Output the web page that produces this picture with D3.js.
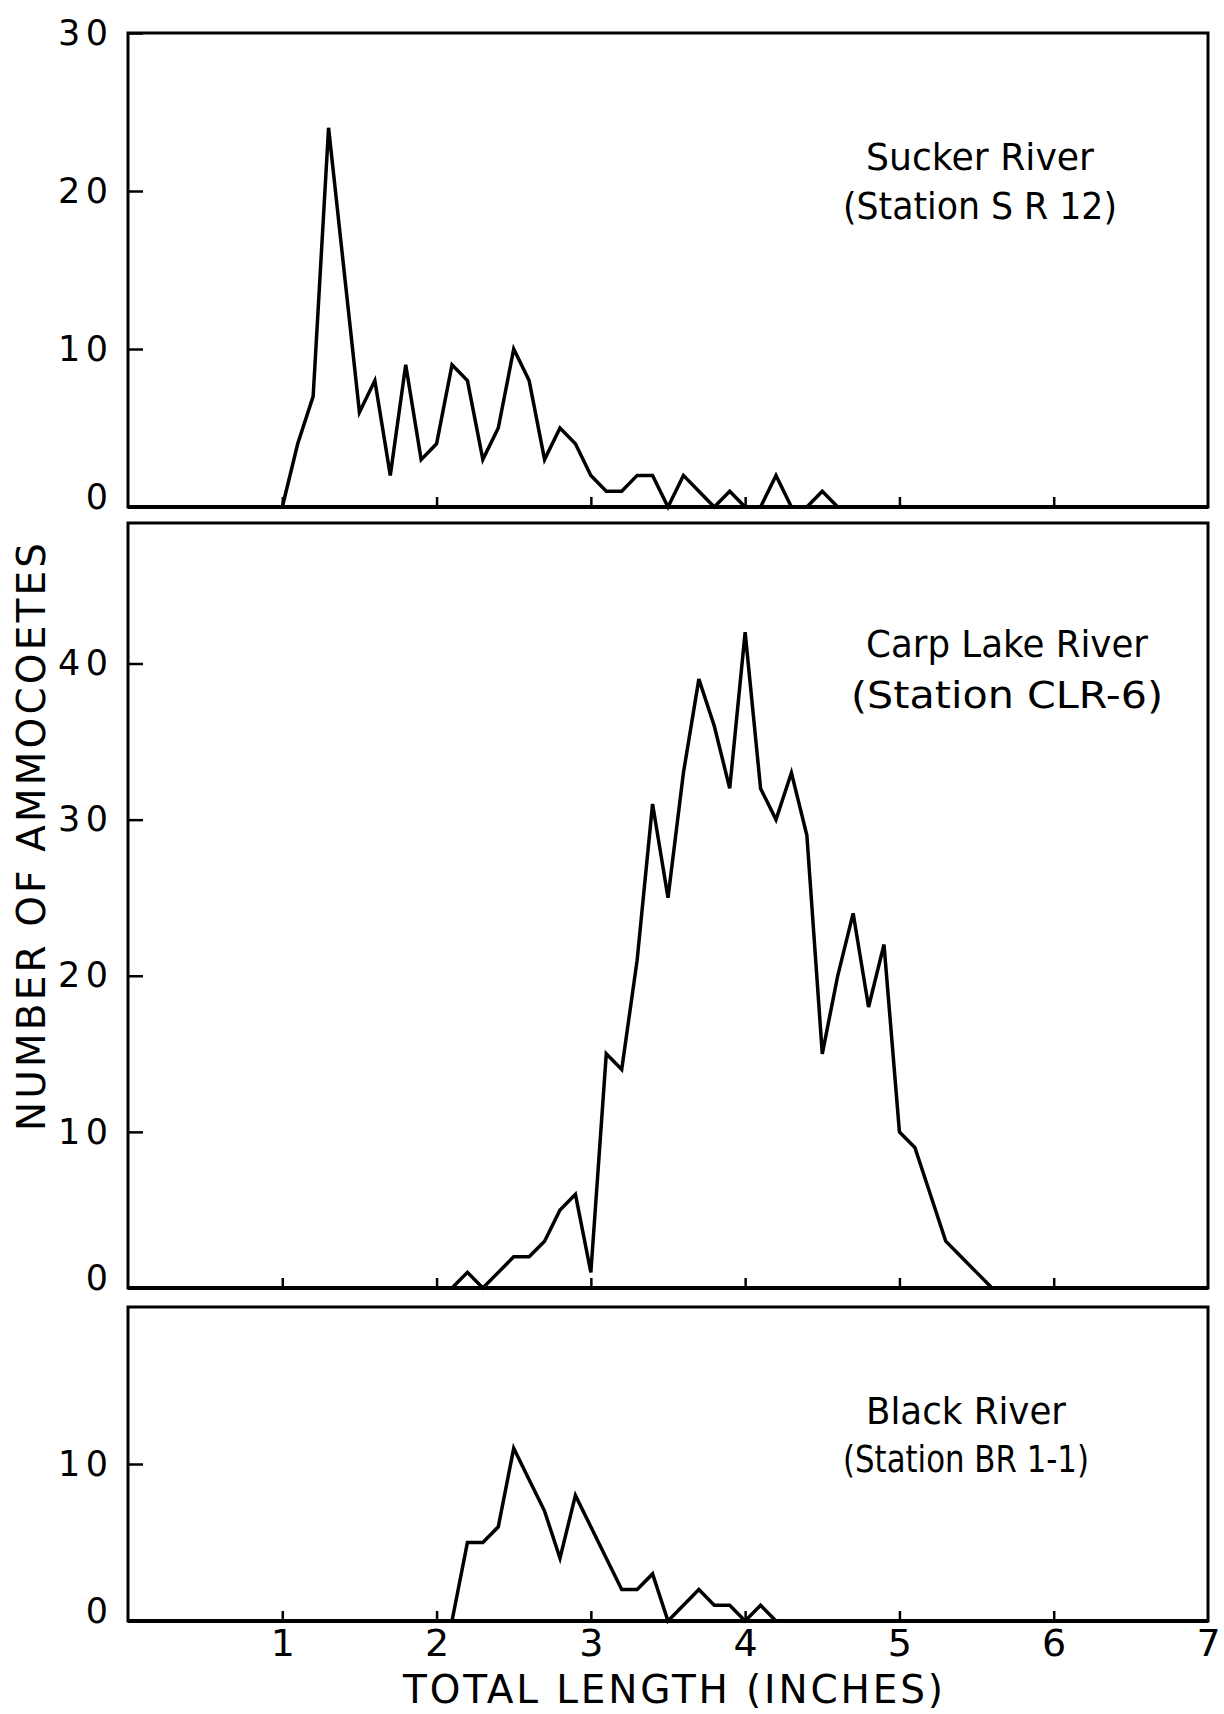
<!DOCTYPE html>
<html>
<head>
<meta charset="utf-8">
<script src="https://cdn.jsdelivr.net/npm/d3@7"></script>
<style>
  body { margin: 0; background: #fff; }
  text { font-family: "DejaVu Sans", "Liberation Sans", sans-serif; fill: #000; }
</style>
</head>
<body>
<div id="myChart"></div>
<script>
// total length (inches) and number of ammocoetes
const suckerLength = [1.0, 1.1, 1.2, 1.3, 1.4, 1.5, 1.6, 1.7, 1.8, 1.9,
  2.0, 2.1, 2.2, 2.3, 2.4, 2.5, 2.6, 2.7, 2.8, 2.9,
  3.0, 3.1, 3.2, 3.3, 3.4, 3.5, 3.6, 3.7, 3.8, 3.9,
  4.0, 4.1, 4.2, 4.3, 4.4, 4.5, 4.6];
const suckerCount = [0, 4, 7, 24, 15, 6, 8, 2, 9, 3,
  4, 9, 8, 3, 5, 10, 8, 3, 5, 4,
  2, 1, 1, 2, 2, 0, 2, 1, 0, 1,
  0, 0, 2, 0, 0, 1, 0];

const carpLength = [2.1, 2.2, 2.3, 2.4, 2.5, 2.6, 2.7, 2.8, 2.9,
  3.0, 3.1, 3.2, 3.3, 3.4, 3.5, 3.6, 3.7, 3.8, 3.9,
  4.0, 4.1, 4.2, 4.3, 4.4, 4.5, 4.6, 4.7, 4.8, 4.9,
  5.0, 5.1, 5.2, 5.3, 5.4, 5.5, 5.6];
const carpCount = [0, 1, 0, 1, 2, 2, 3, 5, 6,
  1, 15, 14, 21, 31, 25, 33, 39, 36, 32,
  42, 32, 30, 33, 29, 15, 20, 24, 18, 22,
  10, 9, 6, 3, 2, 1, 0];

const blackLength = [2.1, 2.2, 2.3, 2.4, 2.5, 2.6, 2.7, 2.8, 2.9,
  3.0, 3.1, 3.2, 3.3, 3.4, 3.5, 3.6, 3.7, 3.8, 3.9,
  4.0, 4.1, 4.2];
const blackCount = [0, 5, 5, 6, 11, 9, 7, 4, 8,
  6, 4, 2, 2, 3, 0, 1, 2, 1, 1,
  0, 1, 0];

const xTicks = [1, 2, 3, 4, 5, 6];
const xLabels = [1, 2, 3, 4, 5, 6, 7];
const suckerTicks = [0, 10, 20, 30];
const carpTicks = [0, 10, 20, 30, 40];
const blackTicks = [0, 10];

const riverNames = ["Sucker River", "Carp Lake River", "Black River"];
const stationNames = ["(Station S R 12)", "(Station CLR-6)", "(Station BR 1-1)"];

let svgW = 1224;
let svgH = 1714;

let svg = d3.select("#myChart").append("svg");
svg.attr("width", svgW);
svg.attr("height", svgH);

const x = d3.scaleLinear().domain([0, 7]).range([128, 1208]);

// panel boxes and label placement
const panels = [
  { len: suckerLength, count: suckerCount, ticks: suckerTicks, top: 33, bottom: 507, yMax: 30,
    cx: 980, y1: 170, y2: 219, w1: 228, w2: 274 },
  { len: carpLength, count: carpCount, ticks: carpTicks, top: 523, bottom: 1288, yMax: 49,
    cx: 1007, y1: 657, y2: 708, w1: 282, w2: 312 },
  { len: blackLength, count: blackCount, ticks: blackTicks, top: 1307, bottom: 1621, yMax: 20,
    cx: 966, y1: 1424, y2: 1472, w1: 200, w2: 246 }
];

panels.forEach((p, i) => {
  const y = d3.scaleLinear().domain([0, p.yMax]).range([p.bottom, p.top]);
  const g = svg.append("g");

  // frame
  g.append("rect")
    .attr("x", x(0))
    .attr("y", p.top)
    .attr("width", x(7) - x(0))
    .attr("height", p.bottom - p.top)
    .attr("fill", "none")
    .attr("stroke", "black")
    .attr("stroke-width", 3);

  // inward y ticks
  const yAxis = g.append("g")
    .attr("transform", "translate(" + x(0) + ",0)")
    .call(d3.axisLeft(y).tickValues(p.ticks).tickSizeInner(-15).tickSizeOuter(0).tickPadding(20));
  yAxis.select(".domain").remove();
  yAxis.selectAll("line").attr("stroke", "black").attr("stroke-width", 2.5);
  yAxis.selectAll("text")
    .style("font-size", "35px")
    .style("font-family", "'DejaVu Sans', sans-serif")
    .attr("fill", "black")
    .attr("textLength", d => d >= 10 ? 50 : 22)
    .attr("y", d => d === 0 ? -10 : 0);

  // inward x ticks
  const xAxis = g.append("g")
    .attr("transform", "translate(0," + p.bottom + ")")
    .call(d3.axisBottom(x).tickValues(xTicks).tickSizeInner(-10).tickSizeOuter(0).tickFormat(""));
  xAxis.select(".domain").remove();
  xAxis.selectAll("line").attr("stroke", "black").attr("stroke-width", 2.5);

  // thicker baseline
  g.append("line")
    .attr("x1", x(0)).attr("x2", x(7))
    .attr("y1", p.bottom).attr("y2", p.bottom)
    .attr("stroke", "black").attr("stroke-width", 4);

  // frequency polygon
  const line = d3.line()
    .x(d => x(d[0]))
    .y(d => y(d[1]));
  g.append("path")
    .datum(d3.zip(p.len, p.count))
    .attr("fill", "none")
    .attr("stroke", "black")
    .attr("stroke-width", 3.5)
    .attr("stroke-linejoin", "miter")
    .attr("d", line);

  // river / station label
  g.append("text")
    .attr("x", p.cx)
    .attr("y", p.y1)
    .attr("text-anchor", "middle")
    .style("font-size", "38px")
    .attr("textLength", p.w1)
    .attr("lengthAdjust", "spacingAndGlyphs")
    .text(riverNames[i]);
  g.append("text")
    .attr("x", p.cx)
    .attr("y", p.y2)
    .attr("text-anchor", "middle")
    .style("font-size", "38px")
    .attr("textLength", p.w2)
    .attr("lengthAdjust", "spacingAndGlyphs")
    .text(stationNames[i]);
});

// x tick labels under the bottom panel
const last = panels[2];
const xLab = svg.append("g")
  .attr("transform", "translate(0," + last.bottom + ")")
  .call(d3.axisBottom(x).tickValues(xLabels).tickSize(0).tickPadding(8).tickFormat(d3.format("d")));
xLab.select(".domain").remove();
xLab.selectAll("text")
  .style("font-size", "38px")
  .style("font-family", "'DejaVu Sans', sans-serif")
  .attr("fill", "black")
  .attr("dy", "0.7em");

// axis titles
svg.append("text")
  .attr("x", 673)
  .attr("y", 1703)
  .attr("text-anchor", "middle")
  .style("font-size", "39px")
  .attr("textLength", 540)
  .text("TOTAL LENGTH  (INCHES)");

svg.append("text")
  .attr("transform", "translate(45,837) rotate(-90)")
  .attr("text-anchor", "middle")
  .style("font-size", "39px")
  .attr("textLength", 588)
  .text("NUMBER OF AMMOCOETES");
</script>
</body>
</html>
